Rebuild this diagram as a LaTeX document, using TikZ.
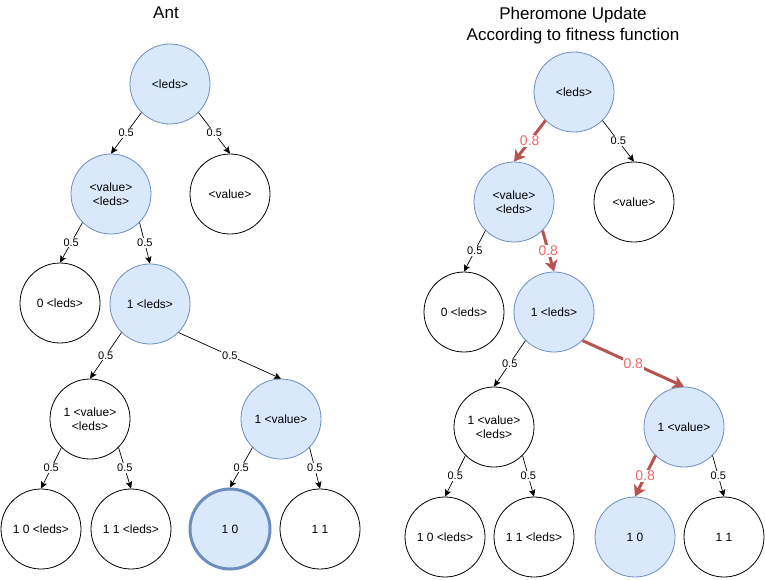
\documentclass[tikz,border=0pt]{standalone}
\usepackage{fontspec}
\setmainfont{Liberation Sans}
\usetikzlibrary{arrows.meta}
\definecolor{litfill}{HTML}{DAE8FC}
\definecolor{litline}{HTML}{6C8EBF}
\definecolor{pathred}{HTML}{B85450}
\definecolor{labelred}{HTML}{EA6B66}

\begin{document}
\begin{tikzpicture}[x=1pt, y=-1pt,
		opt/.style={circle, draw, line width=.8pt, minimum size=80pt, inner sep=0pt, align=center, font=\fontsize{12}{14.4}\selectfont},
		optlit/.style={opt, draw=litline, fill=litfill},
		arc/.style={-{Stealth[length=7pt,width=6.5pt,inset=1.5pt]}, line width=.7pt},
		hotarc/.style={-{Stealth[length=11pt,width=13pt,inset=3pt]}, line width=3pt, draw=pathred},
		prob/.style={midway, fill=white, inner sep=1pt, font=\fontsize{11}{13}\selectfont},
		hotprob/.style={prob, text=labelred, font=\fontsize{14}{16}\selectfont}]
				\useasboundingbox (0,0) rectangle (765,579);
				% titles
				\node[font=\fontsize{17}{21}\selectfont] (anttitle) at (166,13) {Ant};
				\node[anchor=north, inner sep=0pt, align=center, font=\fontsize{17}{21}\selectfont] (phtitle) at (573,7) {Pheromone Update\\According to fitness function};
				% ant
				\node[optlit] (aroot) at (170,84) {<leds>};
				\node[optlit] (avl) at (111,194) {<value>\\<leds>};
				\node[opt] (av) at (230,194) {<value>};
				\node[opt] (a0l) at (60,303) {0 <leds>};
				\node[optlit] (a1l) at (150,304) {1 <leds>};
				\node[opt] (a1vl) at (90,419) {1 <value>\\<leds>};
				\node[optlit] (a1v) at (281,419) {1 <value>};
				\node[opt] (a10l) at (41,529) {1 0 <leds>};
				\node[opt] (a11l) at (131,529) {1 1 <leds>};
				\node[optlit, line width=3pt] (a10) at (230,529) {1 0};
				\node[opt] (a11) at (320,529) {1 1};
				\draw[arc] (aroot.225) -- node[prob] {0.5} (avl.north);
				\draw[arc] (aroot.315) -- node[prob] {0.5} (av.north);
				\draw[arc] (avl.225) -- node[prob] {0.5} (a0l.north);
				\draw[arc] (avl.315) -- node[prob] {0.5} (a1l.north);
				\draw[arc] (a1l.225) -- node[prob] {0.5} (a1vl.north);
				\draw[arc] (a1l.315) -- node[prob] {0.5} (a1v.north);
				\draw[arc] (a1vl.225) -- node[prob] {0.5} (a10l.north);
				\draw[arc] (a1vl.315) -- node[prob] {0.5} (a11l.north);
				\draw[arc] (a1v.225) -- node[prob] {0.5} (a10.north);
				\draw[arc] (a1v.315) -- node[prob] {0.5} (a11.north);
				% pheromone update
				\node[optlit] (proot) at (574,92) {<leds>};
				\node[optlit] (pvl) at (514,202) {<value>\\<leds>};
				\node[opt] (pv) at (634,202) {<value>};
				\node[opt] (p0l) at (464,312) {0 <leds>};
				\node[optlit] (p1l) at (554,312) {1 <leds>};
				\node[opt] (p1vl) at (494,427) {1 <value>\\<leds>};
				\node[optlit] (p1v) at (684,427) {1 <value>};
				\node[opt] (p10l) at (445,537) {1 0 <leds>};
				\node[opt] (p11l) at (534,537) {1 1 <leds>};
				\node[optlit] (p10) at (635,537) {1 0};
				\node[opt] (p11) at (724,537) {1 1};
				\draw[hotarc] (proot.225) -- node[hotprob] {0.8} (pvl.north);
				\draw[arc] (proot.315) -- node[prob] {0.5} (pv.north);
				\draw[arc] (pvl.225) -- node[prob] {0.5} (p0l.north);
				\draw[hotarc] (pvl.315) -- node[hotprob] {0.8} (p1l.north);
				\draw[arc] (p1l.225) -- node[prob] {0.5} (p1vl.north);
				\draw[hotarc] (p1l.315) -- node[hotprob] {0.8} (p1v.north);
				\draw[arc] (p1vl.225) -- node[prob] {0.5} (p10l.north);
				\draw[arc] (p1vl.315) -- node[prob] {0.5} (p11l.north);
				\draw[hotarc] (p1v.225) -- node[hotprob] {0.8} (p10.north);
				\draw[arc] (p1v.315) -- node[prob] {0.5} (p11.north);
			\end{tikzpicture}
\end{document}
